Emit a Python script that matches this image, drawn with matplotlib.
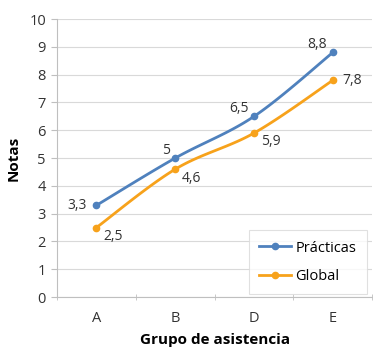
import matplotlib
matplotlib.use('Agg')
import matplotlib.pyplot as plt
import numpy as np

plt.rcParams['font.family'] = ['Open Sans', 'DejaVu Sans']

# Data
grupos = ['A', 'B', 'D', 'E']
practicas = [3.3, 5.0, 6.5, 8.8]
global_ = [2.5, 4.6, 5.9, 7.8]
lab_practicas = ['3,3', '5', '6,5', '8,8']
lab_global = ['2,5', '4,6', '5,9', '7,8']

c_blue = '#4F81BD'
c_orange = '#F7A21B'


def smooth(x, y, n=30):
    # Catmull-Rom style smoothing (like Excel's smoothed lines)
    x = np.asarray(x, float)
    y = np.asarray(y, float)
    px = np.concatenate([[x[0]], x, [x[-1]]])
    py = np.concatenate([[y[0]], y, [y[-1]]])
    xs, ys = [], []
    t = np.linspace(0, 1, n)
    for i in range(1, len(px) - 2):
        p0 = np.array([px[i], py[i]])
        p3 = np.array([px[i + 1], py[i + 1]])
        p1 = p0 + (np.array([px[i + 1], py[i + 1]]) - np.array([px[i - 1], py[i - 1]])) / 6
        p2 = p3 - (np.array([px[i + 2], py[i + 2]]) - np.array([px[i], py[i]])) / 6
        b = ((1 - t) ** 3)[:, None] * p0 + (3 * (1 - t) ** 2 * t)[:, None] * p1 \
            + (3 * (1 - t) * t ** 2)[:, None] * p2 + (t ** 3)[:, None] * p3
        xs.append(b[:, 0])
        ys.append(b[:, 1])
    return np.concatenate(xs), np.concatenate(ys)


fig = plt.figure(figsize=(3.73, 3.47), dpi=100)
ax = fig.add_axes([0.153, 0.144, 0.845, 0.801])

xpos = np.arange(len(grupos)) + 0.5

for vals, col, name in [(practicas, c_blue, 'Prácticas'), (global_, c_orange, 'Global')]:
    sx, sy = smooth(xpos, vals)
    ax.plot(sx, sy, color=col, lw=2, zorder=3)
    ax.plot(xpos, vals, 'o', color=col, ms=4.5, zorder=4)
    ax.plot([], [], color=col, lw=2, marker='o', ms=4.5, label=name)

# data labels
fs = 10
ax.annotate(lab_practicas[0], (xpos[0], practicas[0]), xytext=(-7, 0), textcoords='offset points',
            ha='right', va='center', fontsize=fs, color='#333333')
for i in range(1, 4):
    ax.annotate(lab_practicas[i], (xpos[i], practicas[i]), xytext=(-4, 0), textcoords='offset points',
                ha='right', va='bottom', fontsize=fs, color='#333333')
for i in range(0, 3):
    ax.annotate(lab_global[i], (xpos[i], global_[i]), xytext=(5, -1), textcoords='offset points',
                ha='left', va='top', fontsize=fs, color='#333333')
ax.annotate(lab_global[3], (xpos[3], global_[3]), xytext=(7, 0), textcoords='offset points',
            ha='left', va='center', fontsize=fs, color='#333333')

ax.set_xlim(0, 4)
ax.set_ylim(0, 10)
ax.set_yticks(range(0, 11))
ax.set_xticks(xpos)
ax.set_xticklabels(grupos)
ax.set_xticks(np.arange(0, 5), minor=True)
ax.tick_params(axis='x', which='major', length=0, pad=10, labelsize=10.5, colors='#333333')
ax.tick_params(axis='x', which='minor', length=4, color='#BFBFBF', direction='inout')
ax.tick_params(axis='y', length=4, color='#BFBFBF', labelsize=10.5, labelcolor='#333333', pad=4)

ax.grid(axis='y', color='#D9D9D9', lw=0.8)
ax.set_axisbelow(True)
for s in ['top', 'right']:
    ax.spines[s].set_visible(False)
for s in ['left', 'bottom']:
    ax.spines[s].set_color('#BFBFBF')

ax.set_ylabel('Notas', fontsize=11, fontweight='bold', labelpad=6)
ax.set_xlabel('Grupo de asistencia', fontsize=11, fontweight='bold', labelpad=5)

leg = ax.legend(loc='lower right', bbox_to_anchor=(1.005, -0.015), fontsize=10.5, frameon=True,
                fancybox=False, edgecolor='#D9D9D9', handlelength=2.2, borderpad=0.7,
                labelspacing=0.9, handletextpad=0.3)
leg.get_frame().set_linewidth(0.8)

fig.savefig('out.png', dpi=100)
